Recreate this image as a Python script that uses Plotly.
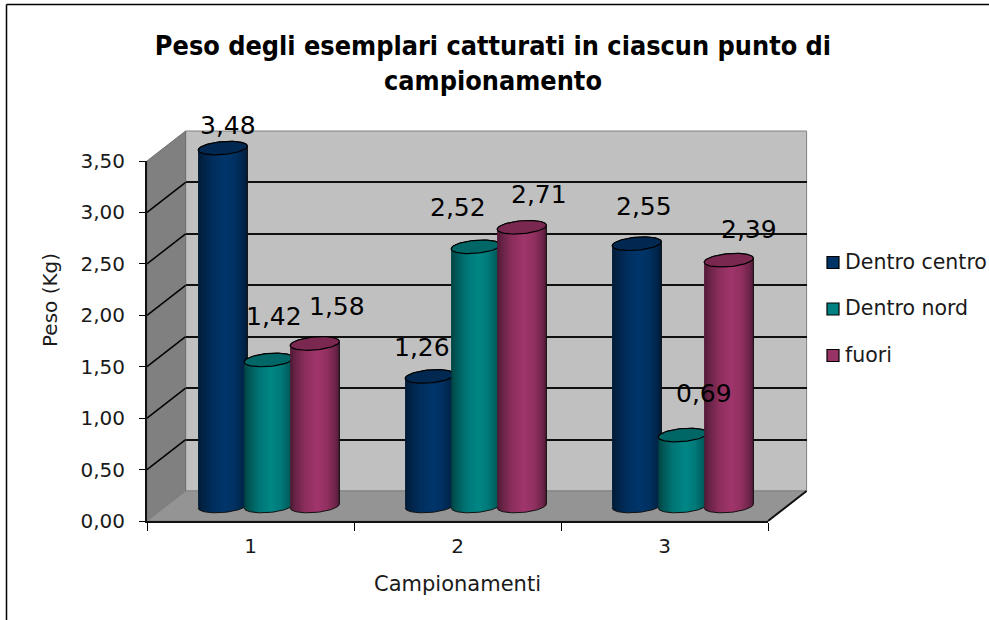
import numpy as np
import plotly.graph_objects as go

campionamenti = ["1", "2", "3"]
dentro_centro = [3.48, 1.26, 2.55]
dentro_nord = [1.42, 2.52, 0.69]
fuori = [1.58, 2.71, 2.39]
y_ticks = [0, 0.5, 1, 1.5, 2, 2.5, 3, 3.5]

series = [
    ("Dentro centro", dentro_centro, "#003366", "#002850"),
    ("Dentro nord", dentro_nord, "#008080", "#006666"),
    ("fuori", fuori, "#993366", "#7a2850"),
]

W, H = 989, 620
# front axes box and the depth shift of the 3d look, in pixels
LEFT, RIGHT, BOTTOM, TOP = 147, 768, 521, 161
DX, DY = 19.3, 15
GROUP_PX = (RIGHT - LEFT) / 3
UNIT_PX = (BOTTOM - TOP) / 3.5
BAR_STEP = 46 / GROUP_PX
BAR_NUDGE = -1 / GROUP_PX
RX = 24.6 / GROUP_PX
RY = 6.5 / UNIT_PX
TILT = 2 / UNIT_PX
# room around the bars axes, lines and fills get clipped at the axis range
PAD = 20

# data label centres in pixels, they do not follow the bars in the original
label_pos = {
    0: [(228, 125), (422, 347), (644, 206)],
    1: [(274, 316), (458, 208), (704, 393)],
    2: [(337, 306), (539, 195), (749, 229)],
}

FONT = "DejaVu Sans"
TEXT_COLOR = "#1a1a1a"


def px(x):
    return x / W


def py(y):
    return 1 - y / H


def dom_x(shift):
    return [px(LEFT + shift * DX), px(RIGHT + shift * DX)]


def dom_y(shift, pad=0):
    return [py(BOTTOM - shift * DY + pad), py(TOP - shift * DY - pad)]


def shade(color, f):
    r, g, b = int(color[1:3], 16), int(color[3:5], 16), int(color[5:7], 16)
    return f"rgb({min(int(r * f), 255)},{min(int(g * f), 255)},{min(int(b * f), 255)})"


def cylinder_scale(color):
    stops = [(0, 0.5), (0.08, 0.65), (0.3, 0.92), (0.55, 1.05), (0.75, 0.95), (0.92, 0.72), (1, 0.5)]
    return [[s, shade(color, f)] for s, f in stops]


def paper_poly(points, fill, line="rgba(0,0,0,0)", width=1):
    path = "M " + " L ".join(f"{px(x)},{py(y)}" for x, y in points) + " Z"
    return dict(type="path", path=path, xref="paper", yref="paper", fillcolor=fill,
                line=dict(color=line, width=width), layer="below")


def paper_line(x0, y0, x1, y1, color="black", width=1.5):
    return dict(type="line", xref="paper", yref="paper", x0=px(x0), y0=py(y0), x1=px(x1), y1=py(y1),
                line=dict(color=color, width=width), layer="below")


fig = go.Figure()

# the wall subplot goes first so the grid sits behind the bars
fig.add_trace(go.Scatter(x=[], y=[], xaxis="x", yaxis="y", showlegend=False))

for i, (name, values, color, cap_color) in enumerate(series):
    centers = [g + 0.5 + BAR_NUDGE + (i - 1) * BAR_STEP for g in range(3)]
    fig.add_trace(go.Bar(x=centers, y=values, width=2 * RX, name=name, marker=dict(color=color),
                         xaxis="x2", yaxis="y2", showlegend=False))

for i, (name, values, color, cap_color) in enumerate(series):
    for g, value in enumerate(values):
        cx = g + 0.5 + BAR_NUDGE + (i - 1) * BAR_STEP
        low = np.linspace(np.pi, 2 * np.pi, 40)
        high = np.linspace(0, np.pi, 40)
        body_x = np.concatenate([cx + RX * np.cos(low), cx + RX * np.cos(high)])
        body_y = np.concatenate([RY * np.sin(low) + TILT * np.cos(low),
                                 value + RY * np.sin(high) + TILT * np.cos(high)])
        fig.add_trace(go.Scatter(x=body_x, y=body_y, mode="lines", fill="toself",
                                 fillgradient=dict(type="horizontal", colorscale=cylinder_scale(color)),
                                 line=dict(color="#101010", width=1), xaxis="x2", yaxis="y2",
                                 showlegend=False, hoverinfo="skip"))
        t = np.linspace(0, 2 * np.pi, 80)
        fig.add_trace(go.Scatter(x=cx + RX * np.cos(t), y=value + RY * np.sin(t) + TILT * np.cos(t),
                                 mode="lines", fill="toself", fillcolor=cap_color,
                                 line=dict(color="black", width=1.2), xaxis="x2", yaxis="y2",
                                 showlegend=False, hoverinfo="skip"))

fig.add_trace(go.Scatter(x=[], y=[], xaxis="x3", yaxis="y3", showlegend=False))

wall_l, wall_r = LEFT + 2 * DX, RIGHT + 2 * DX
wall_t, wall_b = TOP - 2 * DY, BOTTOM - 2 * DY
shapes = [
    paper_poly([(wall_l, wall_t), (wall_r, wall_t), (wall_r, wall_b), (wall_l, wall_b)], "#c0c0c0", "#808080"),
    paper_poly([(LEFT, TOP), (wall_l, wall_t), (wall_l, wall_b), (LEFT, BOTTOM)], "#808080", "#707070"),
    paper_poly([(LEFT, BOTTOM), (wall_l, wall_b), (wall_r, wall_b), (RIGHT, BOTTOM)], "#949494", "#808080"),
    paper_line(RIGHT, BOTTOM, wall_r, wall_b, "#101010", 2),
    paper_line(6.5, 4.5, 6.5, H, "black", 1.5),
    paper_line(6.5, 4.5, W, 4.5, "black", 1.5),
]
for v in y_ticks[1:-1]:
    y_px = BOTTOM - v * UNIT_PX
    shapes.append(paper_line(LEFT, y_px, wall_l, y_px - 2 * DY))

annotations = []
for i, (name, values, color, cap_color) in enumerate(series):
    for value, (lx, ly) in zip(values, label_pos[i]):
        annotations.append(dict(text=f"{value:.2f}".replace(".", ","), x=px(lx), y=py(ly), xref="paper",
                                yref="paper", xanchor="center", yanchor="middle", showarrow=False,
                                font=dict(family=FONT, size=25, color="black")))
    sy = 262.5 + i * 46.5
    shapes.append(dict(type="rect", xref="paper", yref="paper", x0=px(827), x1=px(839), y0=py(sy - 6),
                       y1=py(sy + 6), fillcolor=color, line=dict(color="black", width=1.2)))
    annotations.append(dict(text=name, x=px(842.5), y=py(sy - 1), xref="paper", yref="paper", xanchor="left",
                            yanchor="middle", showarrow=False, font=dict(family=FONT, size=20.5, color=TEXT_COLOR)))

# the y title sits above the middle of the axis in the original
annotations.append(dict(text="Peso (Kg)", x=px(50), y=py(300), xref="paper", yref="paper", xanchor="center",
                        yanchor="middle", textangle=-90, showarrow=False,
                        font=dict(family=FONT, size=20, color=TEXT_COLOR)))

fig.update_layout(
    template="none",
    width=W, height=H, margin=dict(l=0, r=0, t=0, b=0),
    paper_bgcolor="white", plot_bgcolor="rgba(0,0,0,0)",
    barmode="overlay", separators=",.", showlegend=False,
    font=dict(family=FONT, color=TEXT_COLOR),
    title=dict(text="Peso degli esemplari catturati in ciascun punto di<br>campionamento",
               x=493 / W, xanchor="center", y=py(55), yanchor="top",
               font=dict(family="DejaVu Sans Condensed", size=26.8, color="black", weight="bold")),
    shapes=shapes, annotations=annotations,
    # back wall, only the grid
    xaxis=dict(domain=dom_x(2), range=[0, 3], showticklabels=False, showgrid=False, zeroline=False, anchor="y"),
    yaxis=dict(domain=dom_y(2), range=[0, 3.5], showticklabels=False, zeroline=False, anchor="x",
               tickvals=y_ticks[1:-1], gridcolor="#101010", gridwidth=1.5),
    # bars
    xaxis2=dict(domain=dom_x(1), range=[0, 3], visible=False, anchor="y2"),
    yaxis2=dict(domain=dom_y(1, PAD), range=[-PAD / UNIT_PX, 3.5 + PAD / UNIT_PX], visible=False, anchor="x2"),
    # front axes with the ticks and titles
    xaxis3=dict(domain=dom_x(0), range=[0, 3], anchor="y3", showline=True, linecolor="#101010", linewidth=2,
                showgrid=False, zeroline=False, tickvals=[0.5, 1.5, 2.5], ticktext=campionamenti,
                ticks="outside", ticklen=6, tickcolor="rgba(0,0,0,0)", tickfont=dict(size=20),
                minor=dict(tickvals=[0, 1, 2, 3], ticks="outside", ticklen=8, tickcolor="black", showgrid=False),
                title=dict(text="Campionamenti", font=dict(size=21), standoff=19)),
    yaxis3=dict(domain=dom_y(0), range=[0, 3.5], anchor="x3", showline=True, linecolor="#101010", linewidth=2,
                showgrid=False, zeroline=False, tickvals=y_ticks, tickformat=".2f", ticks="outside", ticklen=6,
                tickcolor="black", tickfont=dict(size=20), ticklabelstandoff=10),
)

fig.write_html("out.html", config=dict(displayModeBar=False), post_script="document.body.style.margin = 0;")
